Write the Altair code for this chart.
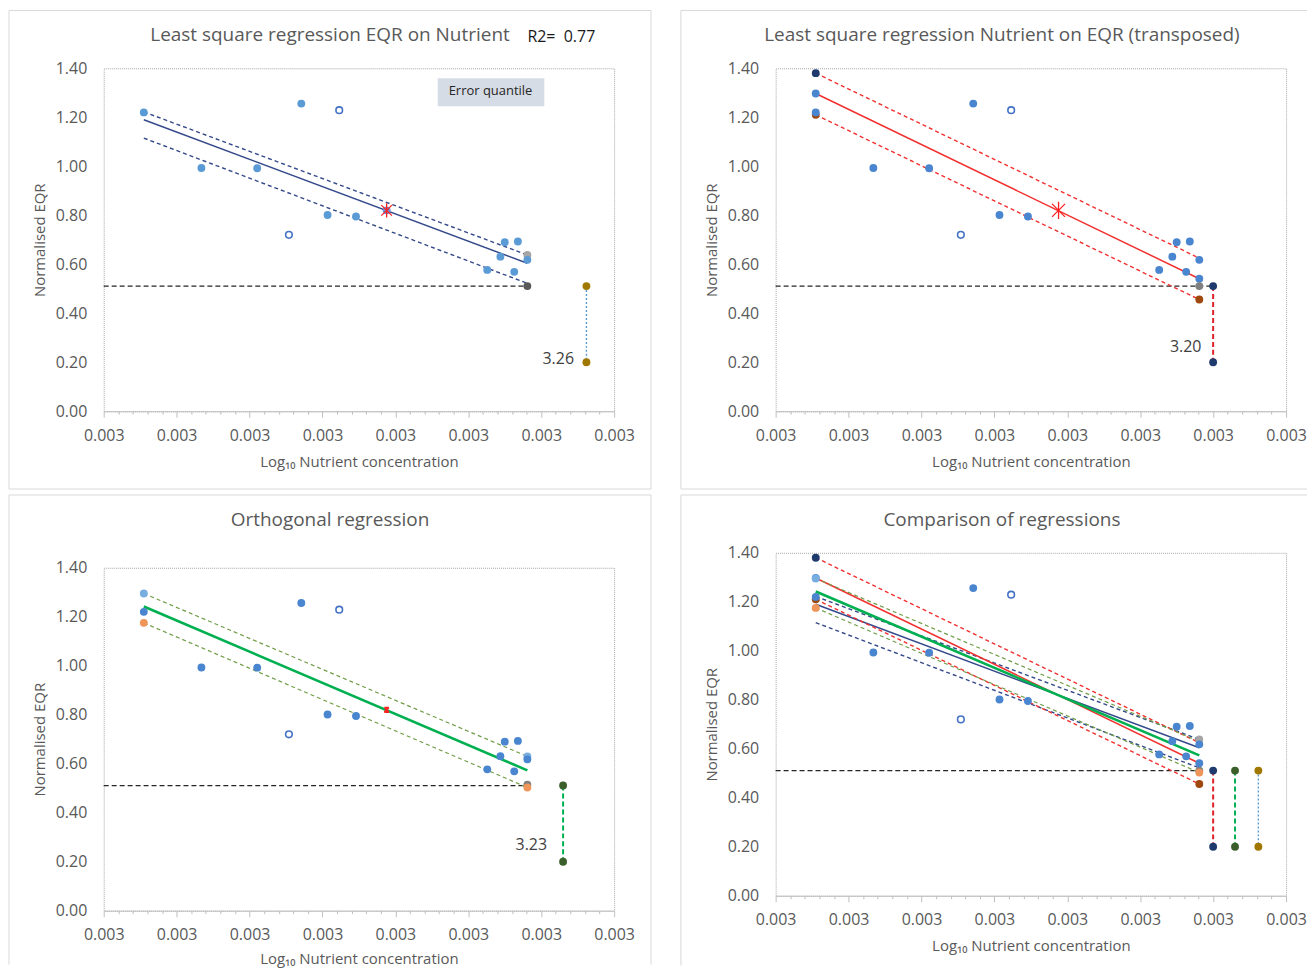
import altair as alt
import pandas as pd

# ---------------- data ----------------
# observed sites (filled markers)
obs_x = [0.0029110, 0.0029268, 0.0029421, 0.0029542, 0.0029614, 0.0029692,
         0.0030052, 0.0030088, 0.0030100, 0.0030136, 0.0030126, 0.0030162]
obs_y = [1.220, 0.993, 0.992, 1.256, 0.801, 0.795,
         0.577, 0.631, 0.690, 0.693, 0.569, 0.618]
# excluded sites (open markers)
open_x = [0.0029508, 0.0029646]
open_y = [0.720, 1.229]

# x of the two ends of every regression line
end_x = [0.0029110, 0.0030162]
centroid_x = 0.0029776
centroid_y = 0.820
eqr_boundary = 0.511
eqr_bottom = 0.200

# y at the two ends: fitted line, upper and lower error quantile
ls_fit = [1.190, 0.604]
ls_hi = [1.222, 0.638]
ls_lo = [1.115, 0.522]
tr_fit = [1.297, 0.541]
tr_hi = [1.380, 0.625]
tr_lo = [1.210, 0.456]
or_fit = [1.242, 0.573]
or_hi = [1.295, 0.630]
or_lo = [1.175, 0.503]

# nutrient boundary of each method and its label
ls_bx, tr_bx, or_bx = 0.0030324, 0.0030200, 0.0030260
boundary_text = ["3.26", "3.20", "3.23"]
boundary_text_x = [0.0030290, 0.0030168, 0.0030216]
boundary_text_y = [0.212, 0.263, 0.270]

x_major = [0.00290, 0.00292, 0.00294, 0.00296, 0.00298, 0.00300, 0.00302, 0.00304]
x_ticks = [round(0.0029 + i * 0.000004, 7) for i in range(36)]
y_ticks = [0.0, 0.2, 0.4, 0.6, 0.8, 1.0, 1.2, 1.4]

titles = ["Least square regression EQR on Nutrient",
          "Least square regression Nutrient on EQR (transposed)",
          "Orthogonal regression",
          "Comparison of regressions"]

# ---------------- styling ----------------
FONT = "Open Sans"
W, H = 512, 344
C_OBS1 = "#5B9BD5"
C_OBS = "#4A86CF"
C_OPEN = "#4472C4"
NAVY = "#1F3B6E"
LS_LINE = "#34498A"
RED = "#F23030"
GREEN = "#00B050"
OLIVE = "#6E9C45"
BROWN = "#9E480E"
GREY = "#7F7F7F"
DGREY = "#595959"
LGREY = "#A5A5A5"
GOLD = "#A07800"
LBLUE = "#78ADE0"
ORANGE = "#F0955A"
DGREEN = "#3A5F2A"
FRAME = "#D9D9D9"
PT = 62
MAJOR = "abs(round((datum.value - 0.0029) / 0.000004) % 5) < 0.5"
ONE = alt.Data(values=[{}])
CUR = {"tp": 11}


def X(field="x"):
    return alt.X(f"{field}:Q",
                 scale=alt.Scale(domain=[x_major[0], x_major[-1]], nice=False, zero=False),
                 axis=alt.Axis(values=x_ticks,
                               labelExpr=f"({MAJOR}) ? format(datum.value, '.3f') : ''",
                               tickSize={"condition": {"test": MAJOR, "value": 6}, "value": 3},
                               labelPadding=10, grid=False, title="Log₁₀ Nutrient concentration",
                               titlePadding=CUR["tp"], labelFlush=False, labelOverlap=False))


def Y(field="y"):
    return alt.Y(f"{field}:Q", scale=alt.Scale(domain=[0, 1.4], nice=False),
                 axis=alt.Axis(values=y_ticks, format=".2f", ticks=False, domain=False,
                               grid=False, labelPadding=17, title="Normalised EQR",
                               titlePadding=8))


def segs(rows, color, width, dash=None):
    df = pd.DataFrame(rows, columns=["x", "y", "x2", "y2"])
    kw = dict(color=color, strokeWidth=width)
    if dash:
        kw["strokeDash"] = dash
    return alt.Chart(df).mark_rule(**kw).encode(x=X(), y=Y(), x2="x2:Q", y2="y2:Q")


def pts(rows, size=PT):
    df = pd.DataFrame(rows, columns=["x", "y", "c"])
    return alt.Chart(df).mark_circle(size=size, opacity=1).encode(
        x=X(), y=Y(), color=alt.Color("c:N", scale=None))


def obs(color):
    df = pd.DataFrame({"x": obs_x, "y": obs_y})
    return alt.Chart(df).mark_circle(size=PT, opacity=1, color=color).encode(x=X(), y=Y())


def opens():
    df = pd.DataFrame({"x": open_x, "y": open_y})
    return alt.Chart(df).mark_point(size=44, filled=False, color=C_OPEN, strokeWidth=1.6,
                                    opacity=1).encode(x=X(), y=Y())


def star(path, size, color, width=1.4):
    df = pd.DataFrame({"x": [centroid_x], "y": [centroid_y]})
    return alt.Chart(df).mark_point(shape=path, size=size, filled=False, color=color,
                                    strokeWidth=width, opacity=1).encode(x=X(), y=Y())


def btext(i):
    df = pd.DataFrame({"x": [boundary_text_x[i]], "y": [boundary_text_y[i]],
                       "t": [boundary_text[i]]})
    return alt.Chart(df).mark_text(align="right", baseline="middle", fontSize=16,
                                   font=FONT, color="#404040").encode(x=X(), y=Y(), text="t:N")


def hrule(x1, x2, y):
    return alt.Chart(ONE).mark_rule(color=FRAME, strokeWidth=1).encode(
        x=alt.value(x1), x2=alt.value(x2), y=alt.value(y))


def vrule(x, y1, y2):
    return alt.Chart(ONE).mark_rule(color=FRAME, strokeWidth=1).encode(
        x=alt.value(x), y=alt.value(y1), y2=alt.value(y2))


def text(t, x, y, size, color, align="center"):
    return alt.Chart(ONE).mark_text(text=t, fontSize=size, font=FONT, color=color,
                                    align=align, baseline="middle").encode(
        x=alt.value(x), y=alt.value(y))


def hline(x_to):
    return segs([[x_major[0], eqr_boundary, x_to, eqr_boundary]], "#262626", 1.3, [5, 3])


def fitlines(fit, hi, lo, c_fit, c_band, w_fit, w_band=1.4):
    return [segs([[end_x[0], lo[0], end_x[1], lo[1]], [end_x[0], hi[0], end_x[1], hi[1]]],
                 c_band, w_band, [4, 3]),
            segs([[end_x[0], fit[0], end_x[1], fit[1]]], c_fit, w_fit)]


ASTER = "M-0.75,-0.75L0.75,0.75M-0.75,0.75L0.75,-0.75M0,-1L0,1"
SMALLX = "M-1,-1L1,1M-1,1L1,-1M-1,-1L1,-1M-1,1L1,1"

# ---------------- panel 1 ----------------
CUR["tp"] = 11
p1 = alt.layer(
    hrule(-95, W + 37, -58), hrule(-95, W + 37, H + 78),
    vrule(-95, -58, H + 78), vrule(W + 37, -58, H + 78),
    hline(end_x[1]),
    segs([[ls_bx, eqr_boundary, ls_bx, eqr_bottom]], C_OBS1, 1.4, [2, 2]),
    *fitlines(ls_fit, ls_hi, ls_lo, LS_LINE, LS_LINE, 1.5),
    pts([[end_x[1], ls_hi[1], LGREY], [end_x[1], eqr_boundary, DGREY],
         [ls_bx, eqr_boundary, GOLD], [ls_bx, eqr_bottom, GOLD]]),
    obs(C_OBS1), opens(),
    pts([[centroid_x, centroid_y, "#6A8CD6"]]),
    star(ASTER, 200, "#FF2020", 1.3),
    btext(0),
    text(titles[0], 227, -33, 19, "#595959"),
    text("R2=\u00a0 0.77", 425, -31, 16, "#1A1A1A", "left"),
    alt.Chart(ONE).mark_rect(color="#D6DCE5").encode(
        x=alt.value(335), x2=alt.value(442), y=alt.value(10), y2=alt.value(38)),
    text("Error quantile", 388, 23, 13, "#262626"),
).properties(width=W, height=H)

# ---------------- panel 2 ----------------
p2 = alt.layer(
    hrule(-95, W + 21, -58), hrule(-95, W + 21, H + 78), vrule(-95, -58, H + 78),
    hline(tr_bx),
    segs([[tr_bx, eqr_boundary, tr_bx, eqr_bottom]], "#E0202A", 2, [5, 3]),
    *fitlines(tr_fit, tr_hi, tr_lo, RED, RED, 1.5),
    pts([[end_x[0], tr_lo[0], BROWN], [end_x[0], tr_hi[0], NAVY], [end_x[0], tr_fit[0], C_OBS]]),
    obs(C_OBS), opens(),
    pts([[end_x[1], tr_fit[1], C_OBS], [end_x[1], eqr_boundary, GREY], [end_x[1], tr_lo[1], BROWN],
         [tr_bx, eqr_boundary, NAVY], [tr_bx, eqr_bottom, NAVY]]),
    star(ASTER, 300, "#FF2020", 1.3),
    btext(1),
    text(titles[1], 227, -33, 19, "#595959"),
).properties(width=W, height=H)

# ---------------- panel 3 ----------------
CUR["tp"] = 9
p3 = alt.layer(
    hrule(-95, W + 37, -73), vrule(-95, -73, H + 54), vrule(W + 37, -73, H + 54),
    hline(end_x[1]),
    segs([[or_bx, eqr_boundary, or_bx, eqr_bottom]], GREEN, 2, [5, 3]),
    *fitlines(or_fit, or_hi, or_lo, GREEN, OLIVE, 2.6, 1.2),
    pts([[end_x[0], or_hi[0], LBLUE], [end_x[0], or_lo[0], ORANGE],
         [end_x[1], or_hi[1], LBLUE], [end_x[1], 0.514, GREY], [end_x[1], or_lo[1], ORANGE],
         [or_bx, eqr_boundary, DGREEN], [or_bx, eqr_bottom, DGREEN]]),
    obs(C_OBS), opens(),
    star(SMALLX, 22, "#FF2020", 1.6),
    btext(2),
    text(titles[2], 227, -48, 19, "#595959"),
).properties(width=W, height=H)

# ---------------- panel 4 ----------------
CUR["tp"] = 11
p4 = alt.layer(
    hrule(-95, W + 21, -58), vrule(-95, -58, H + 70),
    hline(end_x[1]),
    segs([[tr_bx, eqr_boundary, tr_bx, eqr_bottom]], "#E0202A", 2, [5, 3]),
    segs([[or_bx, eqr_boundary, or_bx, eqr_bottom]], GREEN, 2, [5, 3]),
    segs([[ls_bx, eqr_boundary, ls_bx, eqr_bottom]], C_OBS1, 1.4, [2, 2]),
    *fitlines(ls_fit, ls_hi, ls_lo, LS_LINE, LS_LINE, 1.5),
    *fitlines(tr_fit, tr_hi, tr_lo, RED, RED, 1.5),
    *fitlines(or_fit, or_hi, or_lo, GREEN, OLIVE, 2.6, 1.2),
    pts([[end_x[0], tr_lo[0], BROWN], [end_x[0], tr_hi[0], NAVY], [end_x[0], tr_fit[0], C_OBS],
         [end_x[0], or_hi[0], LBLUE], [end_x[0], or_lo[0], ORANGE],
         [end_x[1], ls_hi[1], LGREY], [end_x[1], eqr_boundary, GREY]]),
    obs(C_OBS), opens(),
    pts([[end_x[1], tr_fit[1], C_OBS], [end_x[1], or_lo[1], ORANGE], [end_x[1], tr_lo[1], BROWN],
         [tr_bx, eqr_boundary, NAVY], [tr_bx, eqr_bottom, NAVY],
         [or_bx, eqr_boundary, DGREEN], [or_bx, eqr_bottom, DGREEN],
         [ls_bx, eqr_boundary, GOLD], [ls_bx, eqr_bottom, GOLD]]),
    text(titles[3], 227, -33, 19, "#595959"),
).properties(width=W, height=H)

chart = alt.hconcat(
    alt.vconcat(p1, p3, spacing=4),
    alt.vconcat(p2, p4, spacing=4),
    spacing=28,
).properties(
    padding={"left": 0, "top": 0, "right": 0, "bottom": 0}
).configure_view(
    stroke="#A6A6A6", strokeDash=[1, 1], strokeWidth=1
).configure_axis(
    labelFont=FONT, labelFontSize=16, labelColor="#595959",
    titleFont=FONT, titleFontSize=15, titleColor="#595959", titleFontWeight="normal",
    domainColor="#BFBFBF", tickColor="#BFBFBF",
)

chart.save("out.html", embed_options={"renderer": "svg", "actions": False})
